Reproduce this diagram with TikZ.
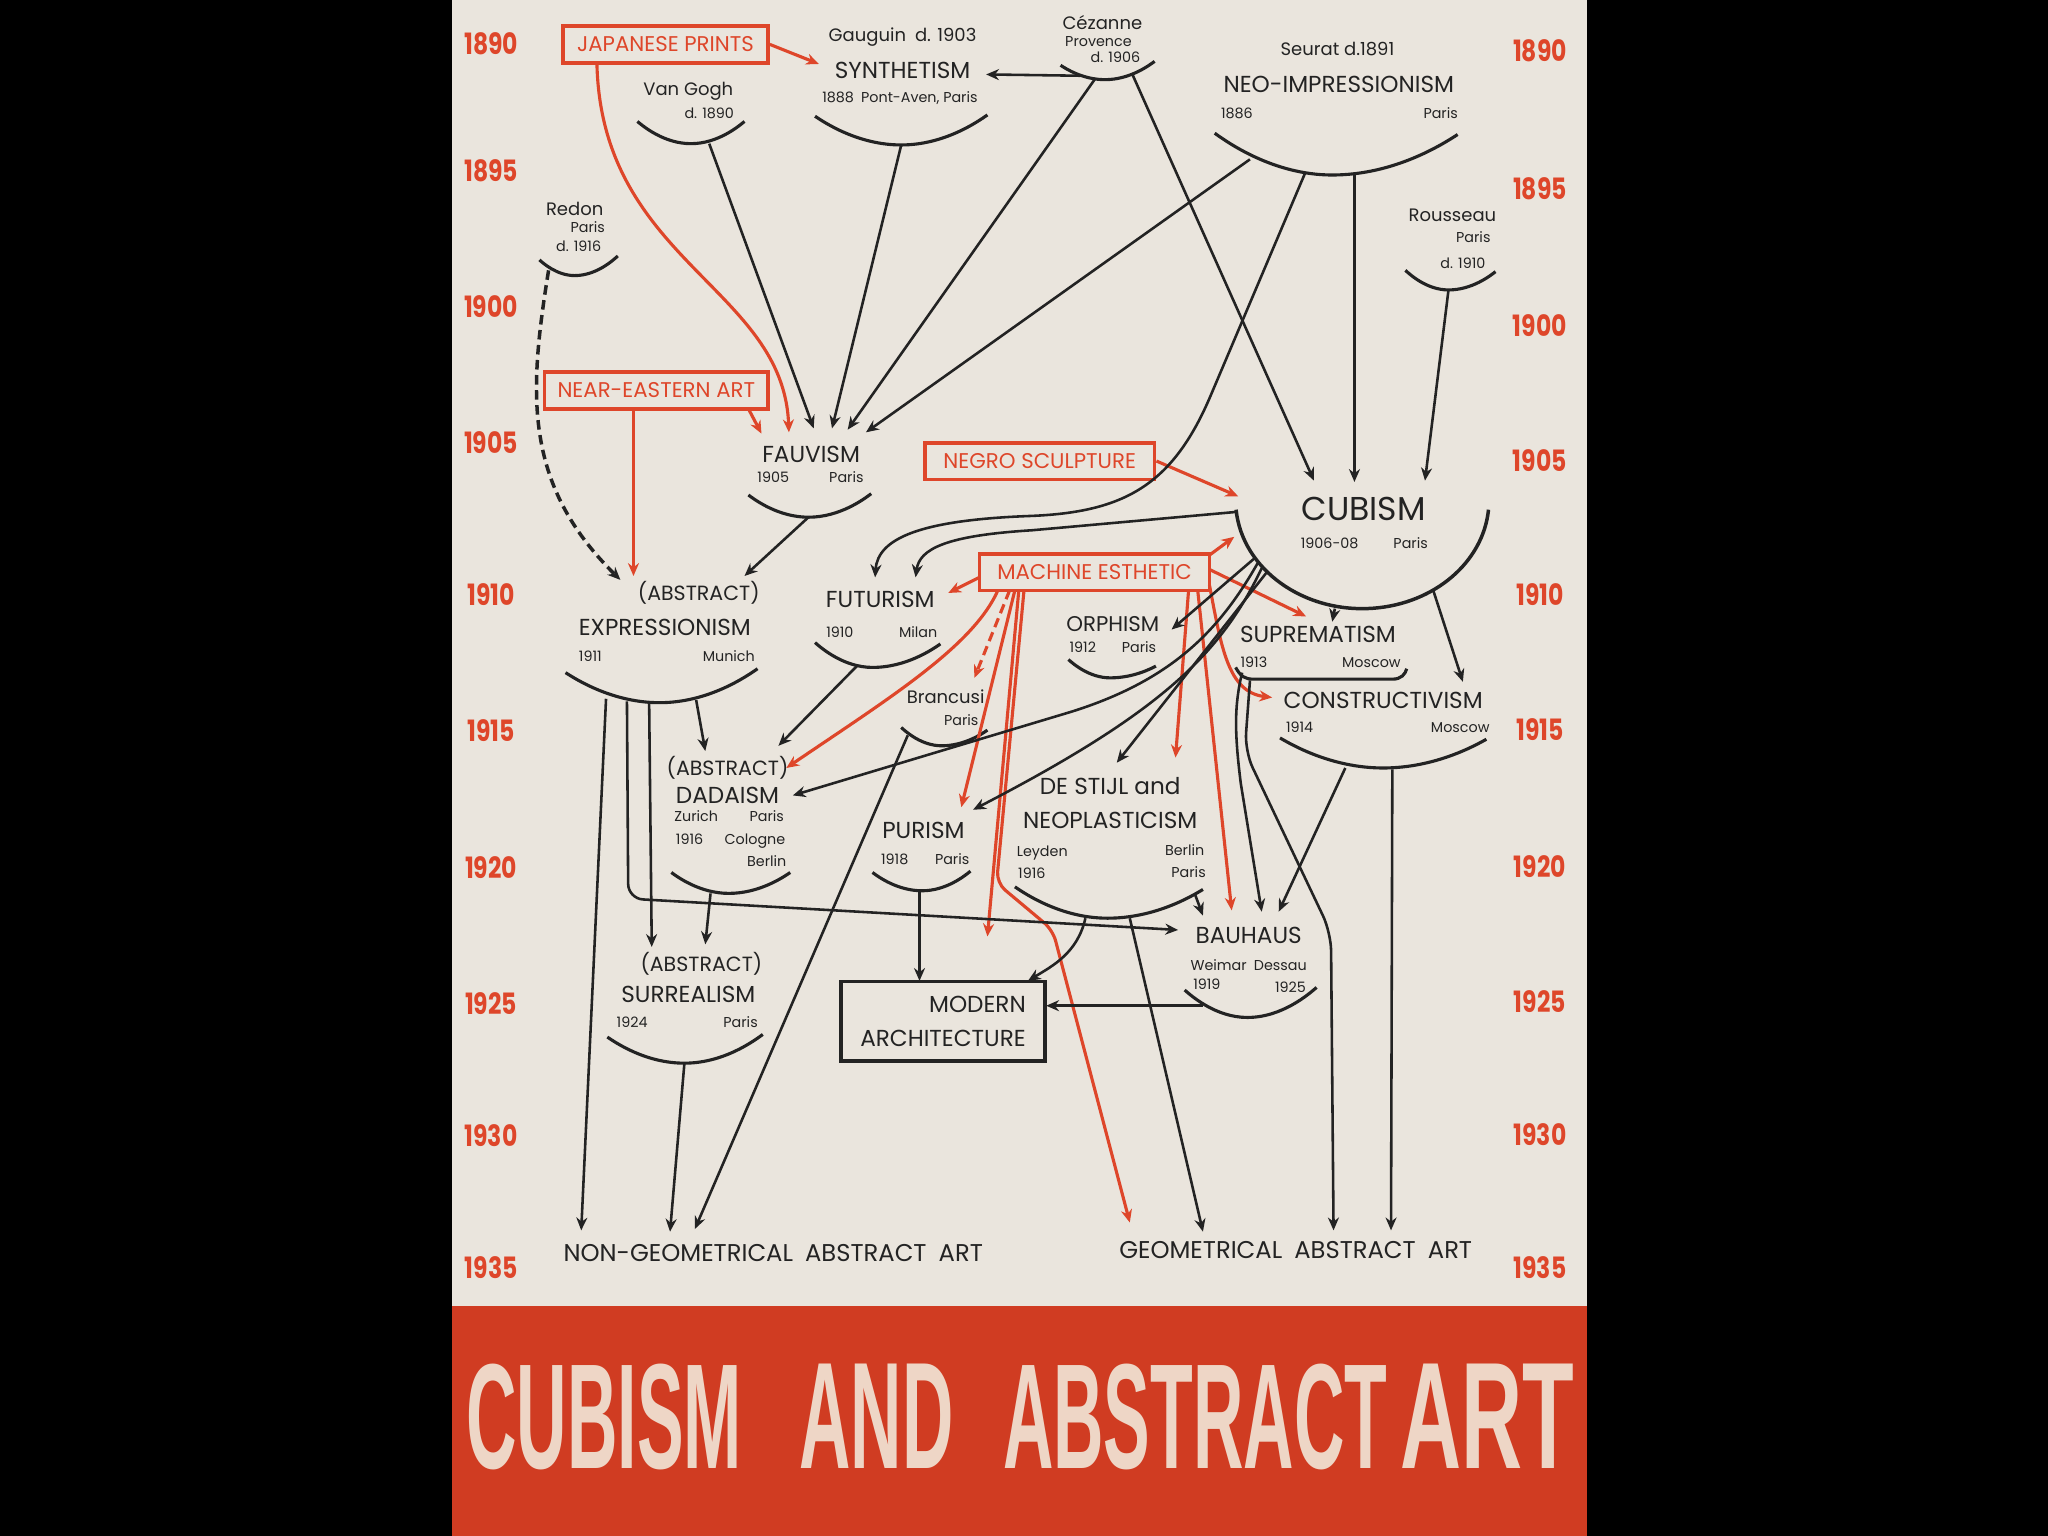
\documentclass[tikz,border=0pt]{standalone}
\usepackage{fontspec}
\setmainfont{Poppins}
\newfontfamily\yearfont{Poppins}[FakeStretch=0.8]
\newfontfamily\titlefont{Liberation Sans}
\usepackage{xcolor}
\usepackage{graphicx}
\usetikzlibrary{positioning,arrows.meta}
\definecolor{barred}{RGB}{222,70,42}
\definecolor{bandred}{RGB}{208,60,34}
\definecolor{paper}{RGB}{234,229,221}
\definecolor{ink}{RGB}{35,35,35}
\definecolor{titlecream}{RGB}{238,214,198}
\newlength{\un}\setlength{\un}{0.125mm}
\newcommand{\tword}[2]{\resizebox{#1\un}{80\un}{\titlefont\bfseries #2}}

\begin{document}
\begin{tikzpicture}[x=0.125mm, y=-0.125mm,
  every node/.style={inner sep=0pt, text=ink},
  mov/.style={font=\fontsize{6.3}{7}\selectfont, text height=4.4pt, text depth=0pt},
  bigname/.style={font=\fontsize{9}{10}\selectfont, text height=6.3pt, text depth=0pt},
  abst/.style={font=\fontsize{5.6}{6}\selectfont, text height=3.9pt, text depth=0pt},
  artist/.style={font=\fontsize{4.9}{5}\selectfont, text height=3.4pt, text depth=0pt},
  subl/.style={font=\fontsize{3.9}{4}\selectfont, text height=2.7pt, text depth=0pt},
  year/.style={font=\yearfont\bfseries\fontsize{8}{9}\selectfont, text=barred, text height=5.6pt, text depth=0pt},
  redbox/.style={draw=barred, line width=1pt, text=barred, font=\fontsize{5.8}{6}\selectfont, minimum height=28\un},
  archbox/.style={draw=ink, line width=1pt, font=\fontsize{6.3}{9.2}\selectfont, align=right, minimum width=156\un, minimum height=61\un},
  arcline/.style={draw=ink, line width=0.85pt},
  arr/.style={draw=ink, line width=0.7pt, -{Stealth[length=3.5pt,width=3pt]}},
  redarr/.style={arr, draw=barred, line width=0.85pt},
  dashline/.style={dash pattern=on 2.6pt off 1.5pt}]
  \useasboundingbox (0,0) rectangle (1568,1176);
  \fill[black] (0,0) rectangle (1568,1176);
  \fill[paper] (346,0) rectangle (1215,1000);
  \fill[bandred] (346,1000) rectangle (1215,1176);

  % time scale
  \foreach \yr/\ly/\ry in {1890/34/39,1895/131/145,1900/235/250,1905/339/353,1910/456/456,
      1915/560/559,1920/665/664,1925/769/767,1930/870/869,1935/971/971}{
    \node[year] (yl\yr) at (376,\ly) {\yr};
    \node[year] (yr\yr) at (1179,\ry) {\yr};
  }

  % sources
  \node[redbox, minimum width=157\un] (jp) at (509.5,34) {JAPANESE PRINTS};
  \node[redbox, minimum width=171\un] (ne) at (502.5,299) {NEAR-EASTERN ART};
  \node[redbox, minimum width=176\un] (ns) at (796,353) {NEGRO SCULPTURE};
  \node[redbox, minimum width=176\un] (me) at (838,438) {MACHINE ESTHETIC};
  \node[archbox] (ma) at (722,782) {MODERN\\ARCHITECTURE};

  % movements and artists
  \node[artist] (gaug) at (691,27) {Gauguin\enspace d. 1903};
  \node[mov] (synth) at (691,54) {SYNTHETISM};
  \node[subl] (synth-d) at (689,75) {1888\enspace Pont-Aven, Paris};
  \node[artist] (vg) at (527,68) {Van Gogh};
  \node[subl] (vg-d) at (543,87) {d. 1890};
  \node[artist] (cez) at (844,18) {Cézanne};
  \node[subl] (cez-p) at (841,32) {Provence};
  \node[subl] (cez-d) at (854,44) {d. 1906};
  \node[artist] (seu) at (1024,38) {Seurat d.1891};
  \node[mov] (neo) at (1025,65) {NEO-IMPRESSIONISM};
  \node[subl] (neo-y) at (947,87) {1886};
  \node[subl] (neo-c) at (1103,87) {Paris};
  \node[artist] (red) at (440,160) {Redon};
  \node[subl] (red-c) at (450,174) {Paris};
  \node[subl] (red-d) at (443,189) {d. 1916};
  \node[artist] (rou) at (1112,165) {Rousseau};
  \node[subl] (rou-c) at (1128,182) {Paris};
  \node[subl] (rou-d) at (1120,202) {d. 1910};
  \node[mov] (fauv) at (621,348) {FAUVISM};
  \node[subl] (fauv-y) at (592,366) {1905};
  \node[subl] (fauv-c) at (648,366) {Paris};
  \node[bigname] (cub) at (1044,390) {CUBISM};
  \node[subl] (cub-y) at (1018,416) {1906-08};
  \node[subl] (cub-c) at (1080,416) {Paris};
  \node[abst] (exa) at (535,454) {(ABSTRACT)};
  \node[mov] (expr) at (509,480) {EXPRESSIONISM};
  \node[subl] (expr-y) at (452,503) {1911};
  \node[subl] (expr-c) at (558,503) {Munich};
  \node[mov] (fut) at (674,459) {FUTURISM};
  \node[subl] (fut-y) at (643,484) {1910};
  \node[subl] (fut-c) at (703,484) {Milan};
  \node[artist] (bra) at (724,534) {Brancusi};
  \node[subl] (bra-c) at (736,552) {Paris};
  \node[mov, font=\fontsize{5.8}{6}\selectfont] (orp) at (852,477) {ORPHISM};
  \node[subl] (orp-y) at (829,496) {1912};
  \node[subl] (orp-c) at (872,496) {Paris};
  \node[mov] (sup) at (1009,486) {SUPREMATISM};
  \node[subl] (sup-y) at (960,507) {1913};
  \node[subl] (sup-c) at (1050,507) {Moscow};
  \node[mov] (con) at (1059,536) {CONSTRUCTIVISM};
  \node[subl] (con-y) at (995,557) {1914};
  \node[subl] (con-c) at (1118,557) {Moscow};
  \node[abst] (daa) at (557,588) {(ABSTRACT)};
  \node[mov] (dad) at (557,609) {DADAISM};
  \node[subl] (dad-z) at (533,625) {Zurich};
  \node[subl] (dad-p) at (587,625) {Paris};
  \node[subl] (dad-y) at (528,643) {1916};
  \node[subl] (dad-k) at (578,643) {Cologne};
  \node[subl] (dad-b) at (587,660) {Berlin};
  \node[mov] (pur) at (707,636) {PURISM};
  \node[subl] (pur-y) at (685,658) {1918};
  \node[subl] (pur-c) at (729,658) {Paris};
  \node[mov] (dst) at (850,602) {DE STIJL and};
  \node[mov] (neop) at (850,628) {NEOPLASTICISM};
  \node[subl] (dst-l) at (798,652) {Leyden};
  \node[subl] (dst-y) at (790,669) {1916};
  \node[subl] (dst-b) at (907,651) {Berlin};
  \node[subl] (dst-p) at (910,668) {Paris};
  \node[mov] (bau) at (956,716) {BAUHAUS};
  \node[subl] (bau-w) at (956,739) {Weimar\enspace Dessau};
  \node[subl] (bau-y1) at (924,754) {1919};
  \node[subl] (bau-y2) at (988,756) {1925};
  \node[abst] (sua) at (537,738) {(ABSTRACT)};
  \node[mov] (sur) at (527,761) {SURREALISM};
  \node[subl] (sur-y) at (484,783) {1924};
  \node[subl] (sur-c) at (567,783) {Paris};
  \node[mov, font=\fontsize{6.6}{7}\selectfont] (ngeo) at (592,960) {NON-GEOMETRICAL\enspace ABSTRACT\enspace ART};
  \node[mov, font=\fontsize{6.6}{7}\selectfont] (geo) at (992,957) {GEOMETRICAL\enspace ABSTRACT\enspace ART};

  % arcs under the movements
  \draw[arcline] (488,93) parabola bend (529,110) (570,93);
  \draw[arcline] (624,89) parabola bend (690,111) (756,88);
  \draw[arcline] (812,50) parabola bend (846,61) (884,47);
  \draw[arcline] (930,102) parabola bend (1020,134) (1116,103);
  \draw[arcline] (413,199) parabola bend (440,211) (473,196);
  \draw[arcline] (1076,207) parabola bend (1109,222) (1145,208);
  \draw[arcline] (573,379) parabola bend (619,396) (667,378);
  \draw[arcline, line width=0.95pt] (1043,383) ++(175:97 and 83) arc[start angle=175, end angle=5, x radius=97, y radius=83];
  \draw[arcline] (433,515) parabola bend (505,538) (580,512);
  \draw[arcline] (624,492) parabola bend (668,511) (720,493);
  \draw[arcline] (690,557) parabola bend (721,571) (756,559);
  \draw[arcline] (818,505) parabola bend (850,519) (885,510);
  \draw[arcline] (946,511) .. controls (950,518) and (953,520) .. (960,520) -- (1066,520) .. controls (1073,520) and (1076,516) .. (1077,512);
  \draw[arcline] (980,565) parabola bend (1059,588) (1138,566);
  \draw[arcline] (514,668) parabola bend (558,684) (605,668);
  \draw[arcline] (668,668) parabola bend (706,682) (743,667);
  \draw[arcline] (777,679) parabola bend (848,703) (921,681);
  \draw[arcline] (907,758) parabola bend (955,779) (1008,756);
  \draw[arcline] (465,794) parabola bend (524,814) (584,792);

  % connector ends
  \coordinate (jp-o) at (457,48);
  \coordinate (synth-i1) at (627,49);
  \coordinate (synth-i2) at (755,57);
  \coordinate (vg-o) at (543,110);
  \coordinate (synth-o) at (690,111);
  \coordinate (cez-o1) at (827,58);
  \coordinate (cez-o2) at (838,61);
  \coordinate (cez-o3) at (867,57);
  \coordinate (neo-o1) at (957,122);
  \coordinate (neo-o2) at (999,133);
  \coordinate (neo-o3) at (1037,133);
  \coordinate (rou-o) at (1109,222);
  \coordinate (red-o) at (420,207);
  \coordinate (fauv-i1) at (583,332);
  \coordinate (fauv-i2) at (604,331);
  \coordinate (fauv-i3) at (623,328);
  \coordinate (fauv-i4) at (637,328);
  \coordinate (fauv-i5) at (649,329);
  \coordinate (fauv-i6) at (663,331);
  \coordinate (cub-i1) at (1006,368);
  \coordinate (cub-i2) at (1037,369);
  \coordinate (cub-i3) at (1091,368);
  \coordinate (cub-i4) at (948,380);
  \coordinate (cub-i5) at (945,411);
  \coordinate (ne-o1) at (485,313);
  \coordinate (ne-o2) at (573,313);
  \coordinate (expr-i1) at (475,444);
  \coordinate (expr-i2) at (570,441);
  \coordinate (expr-i3) at (485,441);
  \coordinate (fauv-o) at (619,396);
  \coordinate (me-o1) at (750,442);
  \coordinate (me-o2) at (764,452);
  \coordinate (me-o3) at (773,452);
  \coordinate (me-o4) at (777,452);
  \coordinate (me-o5) at (780,452);
  \coordinate (me-o6) at (784,452);
  \coordinate (me-o7) at (910,452);
  \coordinate (me-o8) at (917,452);
  \coordinate (me-o9) at (926,425);
  \coordinate (me-o10) at (926,436);
  \coordinate (me-o11) at (926,448);
  \coordinate (fut-i1) at (670,442);
  \coordinate (fut-i2) at (701,442);
  \coordinate (fut-i3) at (726,454);
  \coordinate (dad-i1) at (602,588);
  \coordinate (dad-i2) at (607,609);
  \coordinate (dad-i3) at (540,575);
  \coordinate (dad-i4) at (596,571);
  \coordinate (bra-i) at (746,519);
  \coordinate (pur-i1) at (736,618);
  \coordinate (pur-i2) at (745,620);
  \coordinate (ma-i1) at (756,717);
  \coordinate (ma-i2) at (704,751);
  \coordinate (ma-i3) at (787,751);
  \coordinate (ma-i4) at (801,770);
  \coordinate (dst-i1) at (900,580);
  \coordinate (dst-i2) at (855,584);
  \coordinate (bau-i1) at (943,697);
  \coordinate (bau-i2) at (902,712);
  \coordinate (bau-i3) at (921,701);
  \coordinate (bau-i4) at (966,698);
  \coordinate (bau-i5) at (979,698);
  \coordinate (sup-i1) at (1000,472);
  \coordinate (sup-i2) at (1020,476);
  \coordinate (con-i1) at (974,534);
  \coordinate (con-i2) at (1120,522);
  \coordinate (orp-i) at (897,482);
  \coordinate (sur-i1) at (499,725);
  \coordinate (sur-i2) at (540,723);
  \coordinate (cub-o1) at (946,392);
  \coordinate (cub-o2) at (961,427);
  \coordinate (cub-o3) at (963,431);
  \coordinate (cub-o4) at (966,435);
  \coordinate (cub-o5) at (970,438);
  \coordinate (cub-o6) at (1022,466);
  \coordinate (cub-o7) at (1097,451);
  \coordinate (expr-o1) at (464,535);
  \coordinate (expr-o2) at (480,537);
  \coordinate (expr-o3) at (497,538);
  \coordinate (expr-o4) at (533,536);
  \coordinate (fut-o) at (656,510);
  \coordinate (bra-o) at (695,563);
  \coordinate (dad-o) at (544,684);
  \coordinate (sur-o) at (524,814);
  \coordinate (pur-o) at (704,681);
  \coordinate (dst-o1) at (915,685);
  \coordinate (dst-o2) at (831,703);
  \coordinate (dst-o3) at (865,703);
  \coordinate (bau-o) at (921,770);
  \coordinate (sup-o1) at (951,515);
  \coordinate (sup-o2) at (957,521);
  \coordinate (con-o1) at (1030,588);
  \coordinate (con-o2) at (1066,589);
  \coordinate (ngeo-i1) at (445,942);
  \coordinate (ngeo-i2) at (513,943);
  \coordinate (ngeo-i3) at (532,941);
  \coordinate (geo-i1) at (865,936);
  \coordinate (geo-i2) at (921,943);
  \coordinate (geo-i3) at (1021,942);
  \coordinate (geo-i4) at (1065,942);

  % red influences
  \draw[redarr] (jp.east) -- (synth-i1);
  \draw[redarr] (jp-o) .. controls (460,200) and (600,220) .. (fauv-i2);
  \draw[redarr] (ne-o1) -- (expr-i3);
  \draw[redarr] (ne-o2) -- (fauv-i1);
  \draw[redarr] (ns.east) -- (cub-i4);
  \draw[redarr] (me-o9) -- (cub-i5);
  \draw[redarr] (me-o1) -- (fut-i3);
  \draw[redarr] (me-o2) .. controls (745,495) and (680,535) .. (dad-i1);
  \draw[redarr, dashline] (me-o3) -- (bra-i);
  \draw[redarr] (me-o4) -- (pur-i1);
  \draw[redarr] (me-o5) -- (ma-i1);
  \draw[redarr, rounded corners=3pt] (me-o6) -- (763,676) -- (806,712) -- (geo-i1);
  \draw[redarr] (me-o7) -- (dst-i1);
  \draw[redarr] (me-o8) -- (bau-i1);
  \draw[redarr] (me-o10) -- (sup-i1);
  \draw[redarr] (me-o11) .. controls (935,495) and (940,530) .. (con-i1);

  % 1890s
  \draw[arr] (vg-o) -- (fauv-i3);
  \draw[arr] (synth-o) -- (fauv-i4);
  \draw[arr] (cez-o1) -- (synth-i2);
  \draw[arr] (cez-o2) -- (fauv-i5);
  \draw[arr] (cez-o3) -- (cub-i1);
  \draw[arr] (neo-o1) -- (fauv-i6);
  \draw[arr] (neo-o2) -- (926,305) .. controls (897,372) and (860,392) .. (790,395) .. controls (705,398) and (672,412) .. (fut-i1);
  \draw[arr] (neo-o3) -- (cub-i2);
  \draw[arr] (rou-o) -- (cub-i3);
  \draw[arr, line width=0.95pt, dashline] (red-o) .. controls (405,300) and (400,370) .. (expr-i1);
  \draw[arr] (fauv-o) -- (expr-i2);

  % from cubism
  \draw[arr] (cub-o1) -- (790,406) .. controls (725,410) and (704,420) .. (fut-i2);
  \draw[arr] (cub-o2) -- (orp-i);
  \draw[arr] (cub-o3) .. controls (935,480) and (900,520) .. (820,545) -- (dad-i2);
  \draw[arr] (cub-o4) .. controls (935,500) and (890,545) .. (pur-i2);
  \draw[arr] (cub-o5) -- (dst-i2);
  \draw[arr] (cub-o6) -- (sup-i2);
  \draw[arr] (cub-o7) -- (con-i2);

  % 1910s and after
  \draw[arr] (expr-o1) -- (ngeo-i1);
  \draw[arr, rounded corners=4pt] (expr-o2) -- (481,688) -- (bau-i2);
  \draw[arr] (expr-o3) -- (sur-i1);
  \draw[arr] (expr-o4) -- (dad-i3);
  \draw[arr] (fut-o) -- (dad-i4);
  \draw[arr] (bra-o) -- (ngeo-i3);
  \draw[arr] (dad-o) -- (sur-i2);
  \draw[arr] (sur-o) -- (ngeo-i2);
  \draw[arr] (pur-o) -- (ma-i2);
  \draw[arr] (dst-o1) -- (bau-i3);
  \draw[arr] (dst-o2) .. controls (825,730) and (805,740) .. (ma-i3);
  \draw[arr] (dst-o3) -- (geo-i2);
  \draw[arr] (bau-o) -- (ma-i4);
  \draw[arr] (sup-o1) .. controls (945,540) and (945,560) .. (950,600) -- (bau-i4);
  \draw[arr, rounded corners=5pt] (sup-o2) -- (953,575) -- (1019,714) -- (geo-i3);
  \draw[arr] (con-o1) -- (bau-i5);
  \draw[arr] (con-o2) -- (geo-i4);

  % title band
  \node[text=titlecream] (title) at (781,1085)
    {\tword{211}{CUBISM}\hspace{44\un}\tword{118}{AND}\hspace{38\un}\tword{294}{ABSTRACT}\hspace{10\un}\tword{133}{ART}};
\end{tikzpicture}
\end{document}
